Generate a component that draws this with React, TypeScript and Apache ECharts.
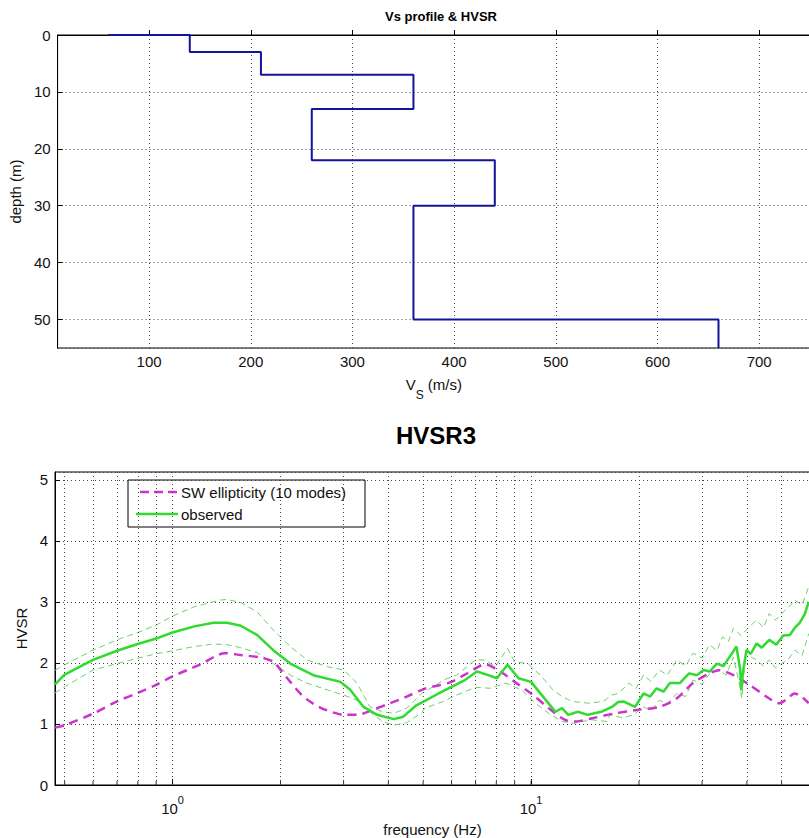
import React, { useEffect, useRef } from "react";
import * as echarts from "echarts";

// ---- Vs profile (step) ----
const vsValues = [60, 140, 140, 210, 210, 360, 360, 260, 260, 440, 440, 360, 360, 660, 660];
const depthValues = [0, 0, 3, 3, 7, 7, 13, 13, 22, 22, 30, 30, 50, 50, 55];

// ---- HVSR: SW ellipticity (model) ----
const modelFreq = [0.47, 0.5, 0.6, 0.7, 0.8, 0.9, 1.0, 1.2, 1.4, 1.55, 1.76, 1.91, 2.0, 2.13, 2.27, 2.4, 2.58, 2.8, 3.0, 3.27, 3.64, 4.05, 4.5, 5.06, 5.5, 6.0, 6.5, 7.0, 7.44, 8.0, 8.5, 9.0, 10.0, 11.2, 12.4, 13.2, 14.7, 17.0, 19.7, 22.8, 25.5, 28.3, 31.5, 33.5, 36.7, 40.7, 45.3, 49.3, 52.0, 54.3, 57.0, 59.5];
const modelHV = [0.94, 0.98, 1.17, 1.37, 1.51, 1.64, 1.78, 1.98, 2.16, 2.13, 2.09, 2.02, 1.89, 1.69, 1.5, 1.38, 1.27, 1.19, 1.15, 1.15, 1.24, 1.34, 1.45, 1.58, 1.63, 1.69, 1.8, 1.91, 1.98, 1.9, 1.8, 1.69, 1.5, 1.26, 1.07, 1.04, 1.09, 1.17, 1.23, 1.28, 1.42, 1.67, 1.83, 1.88, 1.8, 1.64, 1.45, 1.34, 1.42, 1.5, 1.44, 1.34];

// ---- HVSR: observed mean ----
const obsFreq = [0.47, 0.5, 0.6, 0.7, 0.8, 0.9, 1.0, 1.15, 1.3, 1.42, 1.55, 1.72, 1.91, 2.13, 2.47, 2.94, 3.13, 3.41, 3.72, 4.14, 4.4, 4.8, 5.06, 5.52, 6.0, 6.54, 7.06, 7.6, 8.03, 8.6, 9.23, 10.0, 10.9, 11.7, 12.2, 12.7, 13.5, 14.4, 15.7, 16.8, 17.5, 18.1, 19.5, 20.6, 21.5, 22.4, 23.4, 24.4, 26.0, 27.6, 29.0, 30.3, 31.5, 33.0, 34.4, 35.8, 37.4, 38.3, 38.6, 39.0, 39.9, 41.0, 42.6, 44.0, 46.2, 48.3, 50.5, 52.7, 54.5, 56.2, 58.0, 59.5];
const obsHV = [1.65, 1.81, 2.05, 2.2, 2.31, 2.4, 2.5, 2.6, 2.66, 2.66, 2.61, 2.46, 2.21, 1.99, 1.8, 1.69, 1.56, 1.28, 1.15, 1.08, 1.12, 1.31, 1.38, 1.5, 1.61, 1.72, 1.86, 1.8, 1.75, 1.97, 1.75, 1.69, 1.42, 1.2, 1.26, 1.15, 1.2, 1.15, 1.2, 1.28, 1.36, 1.37, 1.28, 1.5, 1.45, 1.585, 1.53, 1.67, 1.67, 1.83, 1.8, 1.885, 1.86, 1.99, 1.95, 2.1, 2.27, 1.9, 1.55, 1.85, 2.21, 2.15, 2.32, 2.25, 2.38, 2.3, 2.45, 2.46, 2.58, 2.66, 2.8, 3.0];

// ---- HVSR: observed +/- std ----
const upFreq = [0.47, 0.5, 0.6, 0.7, 0.8, 0.9, 1.0, 1.15, 1.35, 1.42, 1.55, 1.72, 1.91, 2.13, 2.37, 2.7, 3.0, 3.27, 3.55, 3.85, 4.14, 4.5, 4.95, 5.06, 5.7, 6.2, 7.0, 7.44, 7.95, 8.6, 9.0, 9.8, 10.7, 11.5, 12.2, 13.0, 14.5, 15.9, 16.8, 17.5, 18.8, 19.6, 20.6, 21.6, 22.8, 24.0, 25.5, 27.0, 28.3, 30.0, 31.5, 33.0, 34.2, 35.5, 36.7, 38.5, 40.7, 42.6, 44.5, 46.2, 48.0, 50.0, 52.0, 54.5, 57.0, 59.5];
const upHV = [1.88, 1.97, 2.21, 2.38, 2.5, 2.62, 2.77, 2.92, 3.03, 3.04, 2.99, 2.84, 2.54, 2.27, 2.05, 1.94, 1.885, 1.67, 1.28, 1.2, 1.175, 1.26, 1.5, 1.53, 1.72, 1.8, 2.05, 2.05, 1.94, 2.24, 2.02, 1.99, 1.78, 1.56, 1.45, 1.37, 1.34, 1.37, 1.475, 1.5, 1.67, 1.58, 1.8, 1.7, 1.885, 1.8, 2.05, 1.95, 2.16, 2.08, 2.3, 2.2, 2.43, 2.35, 2.57, 2.45, 2.6, 2.7, 2.58, 2.81, 2.7, 2.81, 2.9, 3.03, 2.95, 3.25];
const lowFreq = [0.47, 0.5, 0.6, 0.7, 0.8, 0.9, 1.0, 1.15, 1.3, 1.42, 1.55, 1.72, 1.91, 2.13, 2.37, 2.7, 3.0, 3.27, 3.55, 3.85, 4.14, 4.5, 4.95, 5.06, 5.7, 6.2, 7.0, 7.7, 8.5, 9.4, 10.3, 11.2, 12.2, 13.2, 14.7, 16.3, 16.6, 18.0, 19.3, 20.6, 21.6, 22.8, 24.0, 25.5, 27.0, 28.3, 30.0, 31.5, 33.5, 35.0, 36.7, 38.3, 38.7, 39.2, 39.9, 41.0, 42.6, 44.5, 46.2, 48.0, 50.0, 52.0, 54.5, 57.0, 59.5];
const lowHV = [1.51, 1.61, 1.885, 1.99, 2.08, 2.15, 2.2, 2.27, 2.31, 2.3, 2.25, 2.17, 1.99, 1.8, 1.67, 1.56, 1.475, 1.39, 1.2, 1.04, 0.98, 1.02, 1.185, 1.26, 1.37, 1.475, 1.6, 1.585, 1.67, 1.56, 1.34, 1.175, 1.04, 1.01, 1.07, 1.04, 1.15, 1.1, 1.15, 1.28, 1.22, 1.39, 1.33, 1.5, 1.45, 1.72, 1.65, 1.83, 1.885, 1.8, 2.1, 1.6, 1.42, 1.8, 2.27, 2.1, 2.05, 1.95, 2.05, 1.92, 1.99, 2.05, 2.21, 2.12, 2.48];

// ---- grid lines / ticks ----
const freqGridLines = [0.5, 0.6, 0.7, 0.8, 0.9, 1, 2, 3, 4, 5, 6, 7, 8, 9, 10, 20, 30, 40, 50];

const FONT = "'Liberation Sans', Arial, Helvetica, sans-serif";
const zip = (a: number[], b: number[]) => a.map((v, i) => [v, b[i]]);
const DOT = { type: [1, 3] as any, color: "#444", width: 1 };

export default function App() {
  const ref = useRef<HTMLDivElement>(null);
  useEffect(() => {
    if (!ref.current) return;
    const chart = echarts.init(ref.current, undefined, { renderer: "svg" });
    const option: any = {
      animation: false,
      backgroundColor: "#fff",
      textStyle: { fontFamily: FONT, color: "#000" },
      title: [
        {
          text: "Vs profile & HVSR",
          left: 436,
          top: 5,
          textAlign: "center",
          textStyle: { fontSize: 13, fontWeight: "bold", color: "#000", fontFamily: FONT },
        },
        {
          text: "HVSR3",
          left: 431,
          top: 418,
          textAlign: "center",
          textStyle: { fontSize: 24, fontWeight: "bold", color: "#000", fontFamily: FONT },
        },
      ],
      grid: [
        { left: 55, top: 35, width: 755, height: 313, show: true, borderColor: "#000", borderWidth: 1, backgroundColor: "#fff" },
        { left: 55, top: 472, width: 755, height: 313, show: true, borderColor: "#000", borderWidth: 1, backgroundColor: "#fff" },
      ],
      xAxis: [
        {
          type: "value",
          gridIndex: 0,
          min: 10,
          max: 750,
          splitNumber: 7,
          axisLine: { show: true, lineStyle: { color: "#000" } },
          axisTick: { show: true, inside: true, length: 5, lineStyle: { color: "#000" } },
          axisLabel: { fontSize: 15, color: "#111", margin: 6, showMinLabel: false, showMaxLabel: false, fontFamily: FONT },
          splitLine: { show: true, lineStyle: DOT },
          name: "{b|V}{s|S}{b| (m/s)}",
          nameLocation: "middle",
          nameGap: 29,
          nameTextStyle: {
            fontFamily: FONT,
            rich: {
              b: { fontSize: 15, color: "#111", fontFamily: FONT, lineHeight: 24, verticalAlign: "top" },
              s: { fontSize: 12, color: "#111", fontFamily: FONT, lineHeight: 24, verticalAlign: "bottom" },
            },
          },
        },
        {
          type: "log",
          logBase: 10,
          gridIndex: 1,
          min: 0.47,
          max: 60,
          axisLine: { show: true, lineStyle: { color: "#000" } },
          axisTick: { show: true, inside: true, length: 6, lineStyle: { color: "#000" } },
          axisLabel: {
            margin: 9,
            showMinLabel: false,
            showMaxLabel: false,
            formatter: (v: number) => {
              const l = Math.log10(v);
              if (Math.abs(l - Math.round(l)) > 1e-6) return "";
              return "{b|10}{sup|" + Math.round(l) + "}";
            },
            rich: {
              b: { fontSize: 15, color: "#111", fontFamily: FONT, lineHeight: 22, verticalAlign: "bottom" },
              sup: { fontSize: 11, color: "#111", fontFamily: FONT, lineHeight: 22, verticalAlign: "top" },
            },
          },
          splitLine: { show: false },
          name: "frequency (Hz)",
          nameLocation: "middle",
          nameGap: 37,
          nameTextStyle: { fontSize: 15, color: "#111", fontFamily: FONT },
        },
      ],
      yAxis: [
        {
          type: "value",
          gridIndex: 0,
          inverse: true,
          min: 0,
          max: 55,
          interval: 10,
          axisLine: { show: true, lineStyle: { color: "#000" } },
          axisTick: { show: true, inside: true, length: 5, lineStyle: { color: "#000" } },
          axisLabel: { fontSize: 15, color: "#111", margin: 7, showMaxLabel: false, fontFamily: FONT },
          splitLine: { show: true, lineStyle: DOT },
          name: "depth (m)",
          nameLocation: "middle",
          nameGap: 32,
          nameTextStyle: { fontSize: 15, color: "#111", fontFamily: FONT },
        },
        {
          type: "value",
          gridIndex: 1,
          min: 0,
          max: 5.13,
          interval: 1,
          axisLine: { show: true, lineStyle: { color: "#000" } },
          axisTick: { show: true, inside: true, length: 5, lineStyle: { color: "#000" } },
          axisLabel: { fontSize: 15, color: "#111", margin: 7, showMaxLabel: false, fontFamily: FONT },
          splitLine: { show: true, lineStyle: DOT },
          name: "HVSR",
          nameLocation: "middle",
          nameGap: 14,
          nameTextStyle: { fontSize: 15, color: "#111", fontFamily: FONT },
        },
      ],
      series: [
        {
          type: "line",
          xAxisIndex: 0,
          yAxisIndex: 0,
          data: zip(vsValues, depthValues),
          symbol: "none",
          lineStyle: { color: "#14149a", width: 2 },
          z: 5,
        },
        {
          type: "scatter",
          xAxisIndex: 1,
          yAxisIndex: 1,
          data: freqGridLines.map((f) => [f, 0]),
          symbol: "rect",
          symbolSize: [1, 4],
          symbolOffset: [0, -2],
          itemStyle: { color: "#000" },
          silent: true,
          z: 1,
          markLine: {
            silent: true,
            symbol: ["none", "none"],
            label: { show: false },
            lineStyle: DOT,
            data: freqGridLines.map((f) => ({ xAxis: f })),
          },
        },
        {
          type: "line",
          xAxisIndex: 1,
          yAxisIndex: 1,
          data: zip(upFreq, upHV),
          symbol: "none",
          lineStyle: { color: "#6fcf6f", width: 1, type: [6, 4] },
          z: 3,
        },
        {
          type: "line",
          xAxisIndex: 1,
          yAxisIndex: 1,
          data: zip(lowFreq, lowHV),
          symbol: "none",
          lineStyle: { color: "#6fcf6f", width: 1, type: [6, 4] },
          z: 3,
        },
        {
          type: "line",
          name: "SW ellipticity (10 modes)",
          xAxisIndex: 1,
          yAxisIndex: 1,
          data: zip(modelFreq, modelHV),
          symbol: "none",
          smooth: 0.3,
          lineStyle: { color: "#cc33cc", width: 2.5, type: [9, 6] },
          z: 4,
        },
        {
          type: "line",
          name: "observed",
          xAxisIndex: 1,
          yAxisIndex: 1,
          data: zip(obsFreq, obsHV),
          symbol: "none",
          lineStyle: { color: "#2edb2e", width: 2.5 },
          z: 5,
        },
      ],
      graphic: [
        {
          type: "group",
          z: 100,
          children: [
            { type: "rect", shape: { x: 128, y: 480, width: 237, height: 47 }, style: { fill: "#fff", stroke: "#000", lineWidth: 1 } },
            { type: "line", shape: { x1: 140, y1: 492, x2: 178, y2: 492 }, style: { stroke: "#cc33cc", lineWidth: 2.5, lineDash: [9, 5] } },
            { type: "text", x: 181, y: 492, style: { text: "SW ellipticity (10 modes)", fill: "#111", font: "15px " + FONT, verticalAlign: "middle" } },
            { type: "line", shape: { x1: 136, y1: 514, x2: 178, y2: 514 }, style: { stroke: "#2edb2e", lineWidth: 2.5 } },
            { type: "text", x: 181, y: 514, style: { text: "observed", fill: "#111", font: "15px " + FONT, verticalAlign: "middle" } },
          ],
        },
      ],
    };
    chart.setOption(option);
    return () => chart.dispose();
  }, []);
  return (
    <div style={{ position: "fixed", left: 0, top: 0, width: 809, height: 838, overflow: "hidden", background: "#fff" }}>
      <div ref={ref} style={{ width: 814, height: 838 }} />
    </div>
  );
}
